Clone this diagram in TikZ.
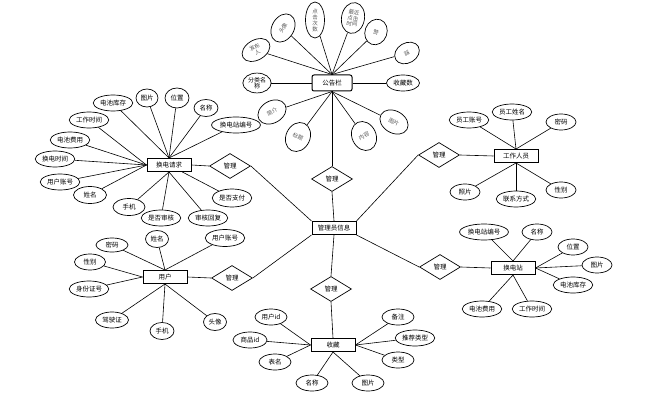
\documentclass[tikz,border=0pt]{standalone}
\usepackage{fontspec}
\newfontfamily\cjk{Noto Sans CJK SC}
\usetikzlibrary{shapes.geometric}

\begin{document}
\begin{tikzpicture}[x=1pt,y=-1pt]
\tikzset{ every node/.style={font=\cjk\fontsize{6.5}{7.5}\selectfont},
  attr/.style={draw, ellipse, inner sep=1pt, minimum width=28pt, minimum height=16pt, line width=0.7pt},
  tilt/.style={attr, text=black!65, align=center, inner sep=0pt, font=\cjk\fontsize{5.5}{6}\selectfont},
  ent/.style={draw, rectangle, minimum width=44pt, minimum height=13pt, inner sep=1pt, line width=1pt},
  rel/.style={draw, diamond, minimum width=41pt, minimum height=25pt, inner sep=0pt, line width=0.7pt},
  link/.style={line width=0.6pt},
}

\useasboundingbox (0,0) rectangle (659,412);

% entities
\node [ent, rounded corners=2pt, minimum width=40pt, minimum height=16pt] (ggl) at (332,83) {公告栏};
\node [ent] (gly)  at (334,228) {管理员信息};
\node [ent] (hdqq) at (169,165) {换电请求};
\node [ent] (yh)   at (165,277) {用户};
\node [ent] (sc)   at (333,345) {收藏};
\node [ent] (gzry) at (516,156) {工作人员};
\node [ent] (hdz)  at (513,268) {换电站};

% relations
\node [rel] (m1) at (332,179) {管理};
\node [rel] (m2) at (230,166) {管理};
\node [rel] (m3) at (232,278) {管理};
\node [rel] (m4) at (331,289) {管理};
\node [rel] (m5) at (439,155) {管理};
\node [rel] (m6) at (440,267) {管理};

\draw [link] (ggl.south) -- (m1.north);
\draw [link] (m1.south)  -- (gly.north);
\draw [link] (hdqq.east) -- (m2.west);
\draw [link] (m2.east)   -- (gly.north west);
\draw [link] (yh.east)   -- (m3.west);
\draw [link] (m3.east)   -- (gly.south west);
\draw [link] (gly.south) -- (m4.north);
\draw [link] (m4.south)  -- (sc.north);
\draw [link] (gly.north east) -- (m5.west);
\draw [link] (m5.east)   -- (gzry.west);
\draw [link] (gly.south east) -- (m6.west);
\draw [link] (m6.east)   -- (hdz.west);

% 公告栏
\node [tilt, rotate=30,  minimum width=30pt, minimum height=20pt] (g1) at (256,50) {发布\\人};
\node [tilt, rotate=60,  minimum width=30pt, minimum height=22pt] (g2) at (283,28) {头像};
\node [tilt, minimum width=19pt, minimum height=36pt] (g3) at (315,20) {点\\击\\次\\数};
\node [tilt, rotate=-10, minimum width=23pt, minimum height=31pt] (g4) at (353,18) {最近\\点击\\时间};
\node [tilt, rotate=-20, minimum width=22pt, minimum height=26pt] (g5) at (376,32) {赞};
\node [tilt, rotate=30,  minimum width=26pt, minimum height=20pt] (g6) at (407,53) {踩};
\node [attr, minimum width=33pt] (g7) at (403,83) {收藏数};
\node [attr, align=center, minimum height=18pt, font=\cjk\fontsize{6}{6.5}\selectfont] (g8) at (257,83) {分类名\\称};
\node [tilt, rotate=30,  minimum width=30pt, minimum height=22pt] (g9)  at (272,112) {简介};
\node [tilt, rotate=-25, minimum width=24pt, minimum height=30pt] (g10) at (298,137) {标题};
\node [tilt, rotate=25,  minimum width=24pt, minimum height=30pt] (g11) at (364,136) {内容};
\node [tilt, rotate=-30, minimum width=30pt, minimum height=22pt] (g12) at (394,122) {图片};

\draw [link] (ggl.north) -- (g1);
\draw [link] (ggl.north) -- (g2);
\draw [link] (ggl.north) -- (g3);
\draw [link] (ggl.north) -- (g4);
\draw [link] (ggl.north) -- (g5);
\draw [link] (ggl.north) -- (g6);
\draw [link] (ggl) -- (g7);
\draw [link] (ggl) -- (g8);
\draw [link] (ggl.south) -- (g9);
\draw [link] (ggl.south) -- (g10);
\draw [link] (ggl.south) -- (g11);
\draw [link] (ggl.south) -- (g12);

% 换电请求
\node [attr] (q1)  at (113,103) {电池库存};
\node [attr, minimum width=22pt, minimum height=18pt] (q2) at (147,98) {图片};
\node [attr, minimum width=24pt, minimum height=20pt] (q3) at (177,98) {位置};
\node [attr, minimum width=24pt, minimum height=17pt] (q4) at (206,108) {名称};
\node [attr] (q5)  at (236,125) {换电站编号};
\node [attr] (q6)  at (89,120)  {工作时间};
\node [attr] (q7)  at (70,140)  {电池费用};
\node [attr] (q8)  at (55,159)  {换电时间};
\node [attr] (q9)  at (60,182)  {用户账号};
\node [attr, minimum width=33pt, minimum height=17pt] (q10) at (90,195) {姓名};
\node [attr, minimum width=32pt, minimum height=17pt] (q11) at (129,207) {手机};
\node [attr] (q12) at (161,218) {是否审核};
\node [attr] (q13) at (208,218) {审核回复};
\node [attr, minimum height=18pt] (q14) at (232,198) {是否支付};

\draw [link] (hdqq.north) -- (q1);
\draw [link] (hdqq.north) -- (q2);
\draw [link] (hdqq.north) -- (q3);
\draw [link] (hdqq.north) -- (q4);
\draw [link] (hdqq.north) -- (q5);
\draw [link] (hdqq.west) -- (q6);
\draw [link] (hdqq.west) -- (q7);
\draw [link] (hdqq.west) -- (q8);
\draw [link] (hdqq.west) -- (q9);
\draw [link] (hdqq.west) -- (q10);
\draw [link] (hdqq.south) -- (q11);
\draw [link] (hdqq.south) -- (q12);
\draw [link] (hdqq.south) -- (q13);
\draw [link] (hdqq) -- (q14);

% 用户
\node [attr, minimum width=32pt, minimum height=14pt] (u1) at (112,245) {密码};
\node [attr, minimum width=23pt, minimum height=17pt] (u2) at (157,239) {姓名};
\node [attr, minimum height=17pt] (u3) at (225,238) {用户账号};
\node [attr, minimum width=31pt] (u4) at (90,262)  {性别};
\node [attr] (u5) at (89,289)  {身份证号};
\node [attr, minimum width=33pt] (u6) at (112,320) {驾驶证};
\node [attr, minimum width=24pt, minimum height=17pt] (u7) at (162,331) {手机};
\node [attr, minimum width=23pt, minimum height=17pt] (u8) at (215,322) {头像};

\draw [link] (yh.north) -- (u1);
\draw [link] (yh.north) -- (u2);
\draw [link] (yh.north) -- (u3);
\draw [link] (yh.west)  -- (u4);
\draw [link] (yh.west)  -- (u5);
\draw [link] (yh.south) -- (u6);
\draw [link] (yh.south) -- (u7);
\draw [link] (yh.south) -- (u8);

% 收藏
\node [attr, minimum width=32pt] (s1) at (271,317) {用户id};
\node [attr, minimum width=34pt] (s2) at (250,340) {商品id};
\node [attr, minimum width=32pt] (s3) at (275,362) {表名};
\node [attr, minimum width=32pt] (s4) at (312,383) {名称};
\node [attr, minimum width=32pt] (s5) at (368,383) {图片};
\node [attr, minimum width=32pt] (s6) at (398,317) {备注};
\node [attr] (s7) at (415,338) {推荐类型};
\node [attr, minimum width=32pt] (s8) at (398,360) {类型};

\draw [link] (sc.west)  -- (s1);
\draw [link] (sc.west)  -- (s2);
\draw [link] (sc.west)  -- (s3);
\draw [link] (sc.south) -- (s4);
\draw [link] (sc.south) -- (s5);
\draw [link] (sc.east)  -- (s6);
\draw [link] (sc.east)  -- (s7);
\draw [link] (sc.east)  -- (s8);

% 工作人员
\node [attr] (w1) at (469,120) {员工账号};
\node [attr] (w2) at (512,112) {员工姓名};
\node [attr, minimum width=30pt] (w3) at (561,122) {密码};
\node [attr, minimum width=30pt] (w4) at (465,192) {照片};
\node [attr] (w5) at (516,199) {联系方式};
\node [attr, minimum width=30pt] (w6) at (561,190) {性别};

\draw [link] (gzry.north) -- (w1);
\draw [link] (gzry.north) -- (w2);
\draw [link] (gzry.north) -- (w3);
\draw [link] (gzry.south) -- (w4);
\draw [link] (gzry.south) -- (w5);
\draw [link] (gzry.south) -- (w6);

% 换电站
\node [attr] (z1) at (484,232) {换电站编号};
\node [attr, minimum width=30pt] (z2) at (537,232) {名称};
\node [attr, minimum width=30pt] (z3) at (573,247) {位置};
\node [attr, minimum width=30pt] (z4) at (597,265) {图片};
\node [attr] (z5) at (573,285) {电池库存};
\node [attr] (z6) at (482,309) {电池费用};
\node [attr] (z7) at (532,309) {工作时间};

\draw [link] (hdz.north) -- (z1);
\draw [link] (hdz.north) -- (z2);
\draw [link] (hdz.east)  -- (z3);
\draw [link] (hdz.east)  -- (z4);
\draw [link] (hdz.east)  -- (z5);
\draw [link] (hdz.south) -- (z6);
\draw [link] (hdz.south) -- (z7);

\end{tikzpicture}
\end{document}
